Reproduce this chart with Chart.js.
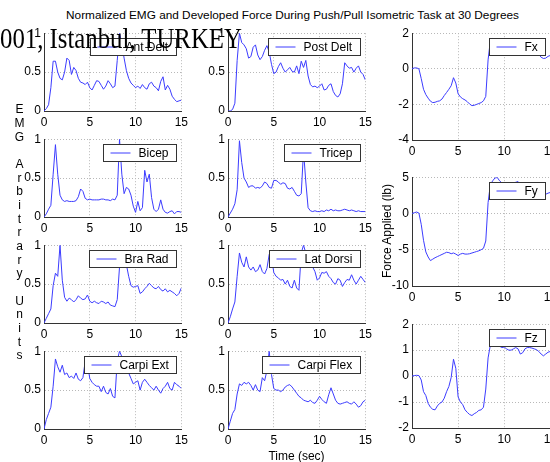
<!DOCTYPE html>
<html><head><meta charset="utf-8">
<script src="https://cdn.jsdelivr.net/npm/chart.js@4.4.1/dist/chart.umd.min.js"></script>
<style>
html,body{margin:0;padding:0;width:550px;height:462px;overflow:hidden;background:#fff;position:relative}
.pane{position:absolute}
.txt{position:absolute;font-family:"Liberation Sans",Arial,Helvetica,sans-serif;color:#000;white-space:pre}
</style></head><body>
<script>
// ---------- DATA ----------
const time = [0,0.25,0.5,0.75,1,1.25,1.5,1.75,2,2.25,2.5,2.75,3,3.25,3.5,3.75,4,4.25,4.5,4.75,5,5.25,5.5,5.75,6,6.25,6.5,6.75,7,7.25,7.5,7.75,8,8.25,8.5,8.75,9,9.25,9.5,9.75,10,10.25,10.5,10.75,11,11.25,11.5,11.75,12,12.25,12.5,12.75,13,13.25,13.5,13.75,14,14.25,14.5,14.75,15];
const antDelt = [0,0.03,0.08,0.3,0.64,0.64,0.5,0.42,0.4,0.5,0.68,0.65,0.47,0.56,0.52,0.42,0.37,0.36,0.34,0.37,0.3,0.27,0.33,0.39,0.38,0.33,0.28,0.32,0.39,0.35,0.3,0.32,0.65,1.0,0.85,0.68,0.52,0.42,0.36,0.33,0.3,0.32,0.29,0.34,0.3,0.28,0.35,0.37,0.32,0.3,0.26,0.38,0.44,0.27,0.33,0.28,0.19,0.15,0.12,0.13,0.14];
const postDelt = [0,0,0.02,0.1,0.65,1.0,0.88,0.85,0.8,0.68,0.7,0.82,0.85,0.72,0.66,0.7,0.78,0.84,0.76,0.6,0.48,0.5,0.57,0.62,0.55,0.5,0.53,0.56,0.51,0.5,0.58,0.48,0.64,0.56,0.65,0.45,0.34,0.31,0.32,0.3,0.32,0.35,0.27,0.28,0.33,0.35,0.25,0.2,0.18,0.22,0.35,0.62,0.58,0.55,0.56,0.5,0.55,0.58,0.5,0.47,0.4];
const fx = [0,0.05,0.05,0,-0.55,-1.15,-1.45,-1.65,-1.82,-1.9,-1.88,-1.83,-1.8,-1.7,-1.5,-1.33,-1.15,-0.95,-0.5,-0.8,-1.4,-1.58,-1.68,-1.75,-1.85,-1.98,-2.07,-2.05,-2.0,-1.95,-1.9,-1.8,-1.55,0.5,1.6,1.7,1.65,1.6,1.55,1.5,1.4,1.45,1.35,1.3,1.35,1.2,1.25,1.15,1.2,1.1,1.05,1.1,1.0,0.95,0.9,0.8,0.65,0.58,0.6,0.7,0.75];
const bicep = [0,0.04,0.1,0.15,0.55,0.93,0.55,0.28,0.22,0.2,0.21,0.2,0.2,0.2,0.21,0.26,0.36,0.33,0.24,0.22,0.23,0.22,0.22,0.22,0.22,0.23,0.23,0.22,0.22,0.21,0.23,0.22,0.28,1.0,0.55,0.3,0.38,0.36,0.28,0.14,0.06,0.2,0.08,0.12,0.6,0.45,0.55,0.25,0.1,0.07,0.1,0.22,0.1,0.06,0.05,0.07,0.08,0.04,0.07,0.07,0.06];
const tricep = [0,0.05,0.1,0.17,0.35,0.98,0.7,0.5,0.45,0.38,0.4,0.4,0.37,0.38,0.37,0.4,0.45,0.43,0.38,0.37,0.47,0.47,0.45,0.42,0.44,0.43,0.37,0.36,0.38,0.33,0.28,0.27,0.3,0.85,0.45,0.12,0.08,0.07,0.08,0.07,0.07,0.08,0.07,0.09,0.08,0.1,0.08,0.09,0.08,0.08,0.09,0.1,0.09,0.08,0.09,0.08,0.07,0.08,0.07,0.07,0.07];
const fy = [0,0.1,0.2,0.05,-1.5,-3.7,-5.3,-6.0,-6.5,-6.3,-6.1,-5.95,-5.8,-5.65,-5.5,-5.35,-5.4,-5.55,-5.45,-5.6,-5.8,-5.6,-5.5,-5.6,-5.6,-5.55,-5.45,-5.35,-5.25,-5.15,-5.0,-4.8,-3.8,1.5,4.0,4.5,4.9,4.95,4.5,4.2,4.1,4.0,3.9,4.1,4.2,4.3,4.4,4.0,3.8,3.6,3.5,3.4,3.3,3.1,3.0,2.8,2.7,2.6,2.65,2.8,2.9];
const braRad = [0,0.06,0.12,0.18,0.48,0.64,0.6,1.0,0.55,0.33,0.28,0.32,0.3,0.27,0.3,0.35,0.32,0.3,0.31,0.36,0.28,0.26,0.28,0.26,0.25,0.28,0.27,0.25,0.27,0.23,0.22,0.21,0.3,0.72,0.85,0.78,0.75,0.6,0.48,0.46,0.47,0.48,0.38,0.4,0.44,0.47,0.51,0.48,0.45,0.44,0.47,0.43,0.41,0.44,0.4,0.42,0.4,0.38,0.35,0.38,0.45];
const latDorsi = [0,0.08,0.18,0.27,0.6,0.9,0.78,0.72,0.85,0.72,0.68,0.72,0.66,0.68,0.75,0.66,0.63,0.7,0.88,0.85,0.65,0.6,0.58,0.55,0.56,0.5,0.55,0.47,0.45,0.55,0.45,0.42,0.9,1.0,0.9,0.85,0.8,0.72,0.66,0.55,0.58,0.65,0.64,0.66,0.6,0.57,0.52,0.5,0.57,0.55,0.47,0.52,0.56,0.55,0.62,0.55,0.5,0.55,0.6,0.56,0.52];
const fz = [0,0.02,0.03,0.02,-0.15,-0.6,-0.75,-1.05,-1.2,-1.28,-1.3,-1.15,-1.05,-1.0,-0.85,-0.6,-0.4,-0.05,0.65,0.3,-0.8,-1.0,-1.1,-1.3,-1.4,-1.48,-1.52,-1.45,-1.4,-1.32,-1.3,-1.2,-0.5,0.7,1.2,1.25,1.15,1.2,1.15,1.1,1.12,1.05,1.0,1.0,1.05,1.1,1.05,0.85,0.9,1.05,1.1,1.1,1.08,1.05,1.02,0.95,0.85,0.78,0.85,0.92,0.95];
const carpiExt = [0,0.12,0.2,0.28,0.55,0.9,0.8,0.73,0.82,0.7,0.72,0.66,0.68,0.65,0.72,0.64,0.62,0.66,0.87,0.84,0.65,0.6,0.57,0.55,0.55,0.48,0.55,0.47,0.45,0.52,0.42,0.4,0.88,1.0,0.93,0.85,0.78,0.72,0.65,0.58,0.6,0.62,0.5,0.6,0.64,0.6,0.56,0.53,0.5,0.55,0.5,0.46,0.52,0.55,0.6,0.52,0.5,0.6,0.57,0.55,0.52];
const carpiFlex = [0,0.1,0.2,0.25,0.45,0.58,0.56,0.6,0.58,0.6,0.56,0.5,0.57,0.5,0.48,0.66,0.62,0.75,1.0,0.7,0.52,0.5,0.5,0.48,0.5,0.54,0.56,0.57,0.54,0.5,0.46,0.42,0.4,0.37,0.36,0.35,0.37,0.34,0.33,0.37,0.42,0.38,0.35,0.33,0.44,0.53,0.45,0.37,0.33,0.32,0.33,0.34,0.35,0.33,0.32,0.35,0.32,0.28,0.3,0.35,0.37];

const seriesLabels = ["Ant Delt","Post Delt","Fx","Bicep","Tricep","Fy","Bra Rad","Lat Dorsi","Fz","Carpi Ext","Carpi Flex"];
const emgTicks = [0, 0.5, 1];
const fxTicks = [-4, -2, 0, 2];
const fyTicks = [-10, -5, 0, 5];
const fzTicks = [-2, -1, 0, 1, 2];
const timeTicks = [0, 5, 10, 15];

const titleText = "Normalized EMG and Developed Force During Push/Pull Isometric Task at 30 Degrees";
const xTitle = "Time (sec)";
const yTitleLeft = "EMG Arbitrary Units";
const yTitleRight = "Force Applied (lb)";
const overlayText = "001, Istanbul, TURKEY";

// ---------- LAYOUT ----------
const FONT = '"Liberation Sans", Arial, Helvetica, sans-serif';
const LINE = 'rgb(60,60,255)';
const colL = [44, 228, 412], colR = [182, 366, 551];
const emgTop = [32, 138, 244, 350], emgH = 79;
const forceRows = [[32, 140], [176, 286], [323, 428]];

const panels = [
  {data: antDelt, label: seriesLabels[0], col: 0, t: emgTop[0], b: emgTop[0]+emgH, ticks: emgTicks},
  {data: postDelt, label: seriesLabels[1], col: 1, t: emgTop[0], b: emgTop[0]+emgH, ticks: emgTicks},
  {data: fx, label: seriesLabels[2], col: 2, t: forceRows[0][0], b: forceRows[0][1], ticks: fxTicks},
  {data: bicep, label: seriesLabels[3], col: 0, t: emgTop[1], b: emgTop[1]+emgH, ticks: emgTicks},
  {data: tricep, label: seriesLabels[4], col: 1, t: emgTop[1], b: emgTop[1]+emgH, ticks: emgTicks},
  {data: fy, label: seriesLabels[5], col: 2, t: forceRows[1][0], b: forceRows[1][1], ticks: fyTicks},
  {data: braRad, label: seriesLabels[6], col: 0, t: emgTop[2], b: emgTop[2]+emgH, ticks: emgTicks},
  {data: latDorsi, label: seriesLabels[7], col: 1, t: emgTop[2], b: emgTop[2]+emgH, ticks: emgTicks},
  {data: fz, label: seriesLabels[8], col: 2, t: forceRows[2][0], b: forceRows[2][1], ticks: fzTicks},
  {data: carpiExt, label: seriesLabels[9], col: 0, t: emgTop[3], b: emgTop[3]+emgH, ticks: emgTicks},
  {data: carpiFlex, label: seriesLabels[10], col: 1, t: emgTop[3], b: emgTop[3]+emgH, ticks: emgTicks}
];

const boxLegend = {
  id: 'boxLegend',
  afterDraw(chart) {
    const ca = chart.chartArea, ctx = chart.ctx;
    const ds = chart.data.datasets[0];
    ctx.save();
    ctx.font = '12px ' + FONT;
    const tw = ctx.measureText(ds.label).width;
    const w = Math.round(tw + 43), h = 17;
    const x = Math.round(ca.right - 5 - w) + 0.5;
    const y = Math.round(ca.top + 5) + 0.5;
    ctx.fillStyle = '#fff';
    ctx.fillRect(x, y, w, h);
    ctx.strokeStyle = '#333'; ctx.lineWidth = 1;
    ctx.strokeRect(x, y, w, h);
    ctx.strokeStyle = ds.borderColor;
    ctx.beginPath(); ctx.moveTo(x + 7, y + h / 2); ctx.lineTo(x + 27, y + h / 2); ctx.stroke();
    ctx.fillStyle = '#000'; ctx.textBaseline = 'middle'; ctx.textAlign = 'left';
    ctx.fillText(ds.label, x + 35, y + h / 2 + 0.5);
    ctx.restore();
  }
};

const padL = 34, padR = 10, padT = 9, padB = 22;
const fmt = v => String(v);

function makeChart(p) {
  const l = colL[p.col], r = colR[p.col];
  const w = r - l, h = p.b - p.t;
  const div = document.createElement('div');
  div.className = 'pane';
  div.style.left = (l - padL) + 'px';
  div.style.top = (p.t - padT) + 'px';
  const cv = document.createElement('canvas');
  cv.width = w + padL + padR; cv.height = h + padT + padB;
  cv.style.width = cv.width + 'px'; cv.style.height = cv.height + 'px';
  div.appendChild(cv);
  document.body.appendChild(div);
  const pts = time.map((t, i) => ({x: t, y: p.data[i]}));
  const yt = p.ticks;
  new Chart(cv, {
    type: 'line',
    data: {datasets: [{label: p.label, data: pts, borderColor: LINE, borderWidth: 1, pointRadius: 0, tension: 0, fill: false}]},
    options: {
      responsive: false, animation: false, events: [],
      layout: {padding: {top: padT, right: padR, left: 0, bottom: 0}},
      plugins: {legend: {display: false}, tooltip: {enabled: false}, title: {display: false}},
      scales: {
        x: {
          type: 'linear', min: timeTicks[0], max: timeTicks[timeTicks.length - 1],
          afterFit(s) { s.height = padB; },
          afterBuildTicks(s) { s.ticks = timeTicks.map(v => ({value: v})); },
          ticks: {padding: 4, color: '#000', maxRotation: 0, autoSkip: false, callback: fmt, font: {family: FONT, size: 12}},
          grid: {color: '#b8b8b8', lineWidth: 1, drawTicks: false},
          border: {display: true, color: '#333', width: 1, dash: [1, 2]}
        },
        y: {
          type: 'linear', min: yt[0], max: yt[yt.length - 1],
          afterFit(s) { s.width = padL; },
          afterBuildTicks(s) { s.ticks = yt.map(v => ({value: v})); },
          ticks: {padding: 3, color: '#000', callback: fmt, font: {family: FONT, size: 12}},
          grid: {color: '#b8b8b8', lineWidth: 1, drawTicks: false},
          border: {display: true, color: '#333', width: 1, dash: [1, 2]}
        }
      }
    },
    plugins: [boxLegend]
  });
}
panels.forEach(makeChart);

function addText(txt, css) {
  const d = document.createElement('div');
  d.className = 'txt';
  d.textContent = txt;
  Object.assign(d.style, css);
  document.body.appendChild(d);
  return d;
}
addText(titleText, {left: '42.5px', width: '500px', top: '8.5px', fontSize: '11.8px', lineHeight: '13px', textAlign: 'center'});
addText(xTitle, {left: '246.5px', width: '100px', top: '449px', fontSize: '12px', lineHeight: '14px', textAlign: 'center'});
addText(yTitleLeft.split('').join('\n'), {left: '9.5px', width: '20px', top: '103.3px', fontSize: '12px', lineHeight: '13.67px', textAlign: 'center'});
addText(yTitleRight, {left: '327px', width: '120px', top: '224px', fontSize: '12px', lineHeight: '14px', textAlign: 'center', transform: 'rotate(-90deg)'});
addText(overlayText, {left: '0px', top: '23.2px', fontSize: '30px', lineHeight: '30px', fontFamily: '"Liberation Serif","Times New Roman",serif', transform: 'scaleX(0.826)', transformOrigin: '0 0', zIndex: 5});
</script>
</body></html>
